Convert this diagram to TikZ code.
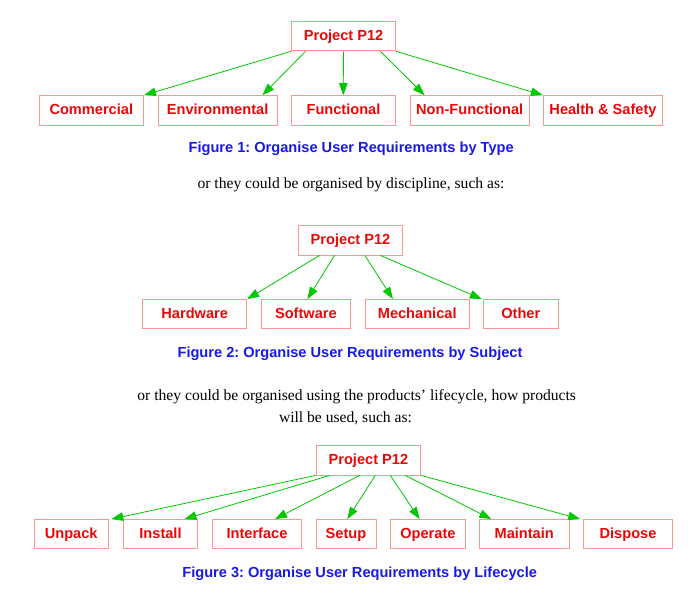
\documentclass[tikz,border=0pt]{standalone}
\usepackage{fontspec}
\setmainfont{Liberation Serif}
\setsansfont{Liberation Sans}
\usetikzlibrary{arrows.meta}
\frenchspacing
\definecolor{boxline}{RGB}{255,150,150}
\definecolor{boxtext}{RGB}{232,8,8}
\definecolor{arrgreen}{RGB}{0,200,0}
\definecolor{capblue}{RGB}{25,25,230}
\tikzset{
  reqbox/.style={draw=boxline, line width=0.9pt, text=boxtext,
    font=\sffamily\bfseries\fontsize{14.6}{17}\selectfont,
    minimum height=29.3pt, inner sep=0pt, text height=10.5pt, text depth=2.5pt},
  arr/.style={draw=arrgreen, line width=0.8pt, -{Triangle[length=12pt,width=8.5pt,fill=arrgreen]}},
  captxt/.style={anchor=base, text=capblue, inner sep=0pt,
    font=\sffamily\bfseries\fontsize{14.6}{17}\selectfont},
  bodytxt/.style={anchor=base, inner sep=0pt, font=\fontsize{15.6}{22}\selectfont}
}
\begin{document}
\begin{tikzpicture}[x=1pt,y=-1pt]
\useasboundingbox (0,0) rectangle (700,598);

% ---------- Figure 1 ----------
\node[reqbox, minimum width=103.8pt] (p1) at (343.6,36.2) {Project P12};
\node[reqbox, minimum width=104.5pt] (c1) at (91.3,110.3) {Commercial};
\node[reqbox, minimum width=118.7pt] (c2) at (217.6,110.3) {Environmental};
\node[reqbox, minimum width=103.8pt] (c3) at (343.5,110.3) {Functional};
\node[reqbox, minimum width=119.3pt] (c4) at (469.7,110.3) {Non-Functional};
\node[reqbox, minimum width=119.4pt] (c5) at (603,110.3) {Health \& Safety};
\draw[arr] (p1.south west) -- (c1.north east);
\draw[arr] ([xshift=14.3pt]p1.south west) -- ([xshift=-15pt]c2.north east);
\draw[arr] ([xshift=-0.2pt]p1.south) -- ([xshift=-0.2pt]c3.north);
\draw[arr] ([xshift=89pt]p1.south west) -- ([xshift=15pt]c4.north west);
\draw[arr] (p1.south east) -- (c5.north west);
\node[captxt] (cap1) at (351.2,152) {Figure 1: Organise User Requirements by Type};
\node[bodytxt] (t1) at (351,188.3) {or they could be organised by discipline, such as:};

% ---------- Figure 2 ----------
\node[reqbox, minimum width=104.4pt] (p2) at (350.5,240.3) {Project P12};
\node[reqbox, minimum width=104pt] (h1) at (194.7,314.2) {Hardware};
\node[reqbox, minimum width=89.7pt] (h2) at (305.9,314.2) {Software};
\node[reqbox, minimum width=104.3pt] (h3) at (417.2,314.2) {Mechanical};
\node[reqbox, minimum width=75pt] (h4) at (520.8,314.2) {Other};
\draw[arr] ([xshift=21.7pt]p2.south west) -- (h1.north east);
\draw[arr] ([xshift=36.7pt]p2.south west) -- ([xshift=1.5pt]h2.north);
\draw[arr] ([xshift=67pt]p2.south west) -- ([xshift=28.3pt]h3.north west);
\draw[arr] ([xshift=82.4pt]p2.south west) -- ([xshift=-1pt]h4.north west);
\node[captxt] (cap2) at (350,357.8) {Figure 2: Organise User Requirements by Subject};
\node[bodytxt] (t2a) at (356.7,400) {or they could be organised using the products’ lifecycle, how products};
\node[bodytxt] (t2b) at (345.5,422.5) {will be used, such as:};

% ---------- Figure 3 ----------
\node[reqbox, minimum width=104.7pt] (p3) at (368.4,460.3) {Project P12};
\node[reqbox, minimum width=74.3pt] (l1) at (71.2,534.2) {Unpack};
\node[reqbox, minimum width=74.4pt] (l2) at (160.5,534.2) {Install};
\node[reqbox, minimum width=89.4pt] (l3) at (257,534.2) {Interface};
\node[reqbox, minimum width=60pt] (l4) at (346,534.2) {Setup};
\node[reqbox, minimum width=74.3pt] (l5) at (427.9,534.2) {Operate};
\node[reqbox, minimum width=89.7pt] (l6) at (524.2,534.2) {Maintain};
\node[reqbox, minimum width=89.4pt] (l7) at (628,534.2) {Dispose};
\draw[arr] (p3.south west) -- ([xshift=2.5pt]l1.north east);
\draw[arr] ([xshift=14pt]p3.south west) -- ([xshift=-13.7pt]l2.north east);
\draw[arr] ([xshift=44pt]p3.south west) -- ([xshift=18pt]l3.north);
\draw[arr] ([xshift=59.7pt]p3.south west) -- ([xshift=1.3pt]l4.north);
\draw[arr] ([xshift=74.7pt]p3.south west) -- ([xshift=29.3pt]l5.north west);
\draw[arr] ([xshift=89.7pt]p3.south west) -- ([xshift=12.4pt]l6.north west);
\draw[arr] (p3.south east) -- ([xshift=-2.6pt]l7.north west);
\node[captxt] (cap3) at (359.7,577) {Figure 3: Organise User Requirements by Lifecycle};
\end{tikzpicture}
\end{document}
